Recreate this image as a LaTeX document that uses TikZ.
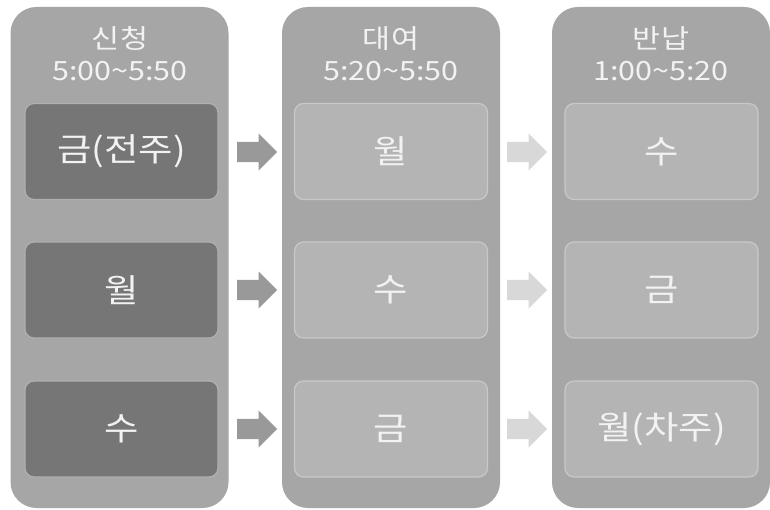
\documentclass[tikz,border=0pt]{standalone}
\usepackage{fontspec}
\newfontfamily\kr[FakeStretch=1.15]{Noto Sans CJK KR}
\usetikzlibrary{shapes.arrows}
\definecolor{colbg}{HTML}{A6A6A6}
\definecolor{darkbox}{HTML}{767676}
\definecolor{darkline}{HTML}{B0B0B0}
\definecolor{lightbox}{HTML}{B4B4B4}
\definecolor{lightline}{HTML}{C8C8C8}
\definecolor{arrowA}{HTML}{999999}
\definecolor{arrowB}{HTML}{D8D8D8}
\definecolor{txt}{HTML}{F2F2F2}
\tikzset{
  column/.style={draw=none, fill=colbg, rounded corners=26pt, minimum width=218pt, minimum height=501pt, inner sep=0pt},
  title/.style={text=txt, font=\kr\fontsize{26.5}{32}\selectfont, align=center, inner sep=0pt},
  boxA/.style={fill=darkbox, draw=darkline, line width=1.2pt, rounded corners=9pt, minimum width=193pt, minimum height=96pt, text=txt, font=\kr\fontsize{32.5}{38}\selectfont},
  boxB/.style={boxA, fill=lightbox, draw=lightline},
  arrA/.style={single arrow, anchor=west, fill=arrowA, draw=none, minimum height=40pt, minimum width=0pt, single arrow head extend=8.5pt, single arrow head indent=0pt, inner xsep=0pt, inner ysep=10pt},
  arrB/.style={arrA, fill=arrowB},
}
\begin{document}
\begin{tikzpicture}[x=1pt,y=-1pt]
\useasboundingbox[fill=white] (0,0) rectangle (770,510);
% columns
\node[column] (c1) at (119.5,257.5) {};
\node[column] (c2) at (391,257.5) {};
\node[column] (c3) at (661,257.5) {};
% titles
\node[title] (t1) at (120,54) {신청\\5:00\textasciitilde 5:50};
\node[title] (t2) at (391,54) {대여\\5:20\textasciitilde 5:50};
\node[title] (t3) at (661,54) {반납\\1:00\textasciitilde 5:20};
% boxes
\node[boxA] (a1) at (121.5,151.5) {금(전주)};
\node[boxA] (a2) at (121.5,290) {월};
\node[boxA] (a3) at (121.5,429) {수};
\node[boxB] (b1) at (391,151.5) {월};
\node[boxB] (b2) at (391,290) {수};
\node[boxB] (b3) at (391,429) {금};
\node[boxB] (d1) at (661.5,151.5) {수};
\node[boxB] (d2) at (661.5,290) {금};
\node[boxB] (d3) at (661.5,429) {월(차주)};
% arrows
\node[arrA] (p1) at (237,152) {};
\node[arrA] (p2) at (237,290) {};
\node[arrA] (p3) at (237,429) {};
\node[arrB] (q1) at (507,152) {};
\node[arrB] (q2) at (507,290) {};
\node[arrB] (q3) at (507,429) {};
\end{tikzpicture}
\end{document}
